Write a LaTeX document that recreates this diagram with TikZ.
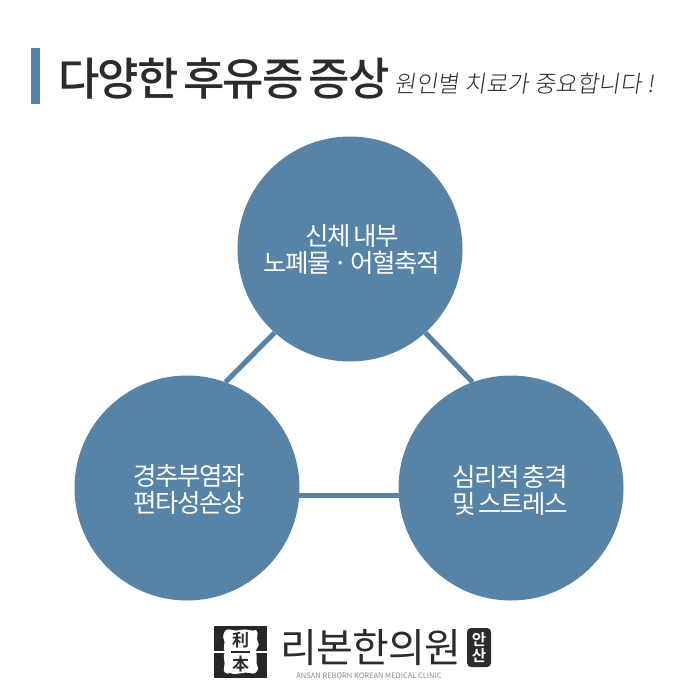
\documentclass[tikz,border=0pt]{standalone}
\usepackage{fontspec}
\setmainfont{Noto Sans CJK KR}
\newfontfamily\lightfont{Noto Sans CJK KR Light}
\newfontfamily\blobfont[LetterSpace=-5.5,WordSpace=0.6]{Noto Sans CJK KR}
\newfontfamily\titlefont[LetterSpace=-4,WordSpace=0.55]{Noto Sans CJK KR Medium}
\newfontfamily\logofont[LetterSpace=-2]{Noto Sans CJK KR}
\newfontfamily\badgefont{Noto Sans CJK KR Bold}
\definecolor{steel}{HTML}{5783A7}
\definecolor{ink}{HTML}{2B2B2B}
\tikzset{
  x=1pt,y=-1pt,
  blob/.style={circle,fill=steel,draw=none,minimum size=225pt,inner sep=0pt},
  link/.style={draw=steel,line width=5pt},
  blobtext/.style={text=white,align=center,font=\blobfont\fontsize{25.5}{27}\selectfont,inner sep=0pt},
  title/.style={text=ink,anchor=west,inner sep=0pt,font=\titlefont\fontsize{45}{50}\selectfont},
  hand/.style={text=ink,anchor=west,inner sep=0pt,font=\lightfont\fontsize{23.4}{28}\selectfont},
}
\begin{document}
\begin{tikzpicture}
\useasboundingbox (0,0) rectangle (700,700);
\fill[white] (0,0) rectangle (700,700);
\fill[steel] (31,48) rectangle (40,104);
\node[title] (ttl) at (58,79) {다양한 후유증 증상};
\node[hand,xslant=0.15] (sub) at (396,84) {원인별 치료가 중요합니다 !};
\node[blob] (top) at (350,249) {};
\node[blob] (lft) at (187,488) {};
\node[blob] (rgt) at (511,488) {};
\draw[link] (top.228) -- (lft.70);
\draw[link] (top.312) -- (rgt.110);
\draw[link] (lft.-4.6) -- (rgt.184.6);
\node[blobtext] (t1) at (352,249) {신체 내부\\노폐물 · 어혈축적};
\node[blobtext] (t2) at (189,489) {경추부염좌\\편타성손상};
\node[blobtext] (t3) at (510,490) {심리적 충격\\및 스트레스};
% logo
\fill[ink!90!black] (214,626) rectangle (267,678);
\fill[white] (226,630) .. controls (230,628) and (234,632) .. (240,630)
  .. controls (246,628) and (252,632) .. (256,630)
  .. controls (260,634) and (255,638) .. (258,642)
  .. controls (261,646) and (255,648) .. (256,652)
  .. controls (258,658) and (255,662) .. (258,668)
  .. controls (258,672) and (254,675) .. (250,673)
  .. controls (245,671) and (236,676) .. (230,673)
  .. controls (226,675) and (223,672) .. (224,668)
  .. controls (226,662) and (222,656) .. (225,652)
  .. controls (222,648) and (226,642) .. (224,640)
  .. controls (222,636) and (224,632) .. (226,630) -- cycle;
\fill[white] (214,651) rectangle (226,653);
\fill[white] (256,651) rectangle (267,653);
\node[text=ink,inner sep=0pt,font=\badgefont\fontsize{17}{17}\selectfont] (h1) at (240.5,640) {利};
\fill[ink] (231,651) rectangle (250,653);
\node[text=ink,inner sep=0pt,font=\badgefont\fontsize{17}{17}\selectfont] (h2) at (240.5,664) {本};
\node[text=ink,anchor=west,inner sep=0pt,font=\logofont\fontsize{40}{44}\selectfont] (lg) at (280,648) {리본한의원};
\fill[ink,rounded corners=4pt] (467,628) rectangle (491,667);
\node[text=white,align=center,inner sep=0pt,font=\badgefont\fontsize{15.5}{16.5}\selectfont] (an) at (479,647.5) {안\\산};
\node[text=ink!55,inner sep=0pt,font=\fontsize{7.5}{8}\selectfont] (en) at (369,675.5) {ANSAN REBORN KOREAN MEDICAL CLINIC};
\end{tikzpicture}
\end{document}
